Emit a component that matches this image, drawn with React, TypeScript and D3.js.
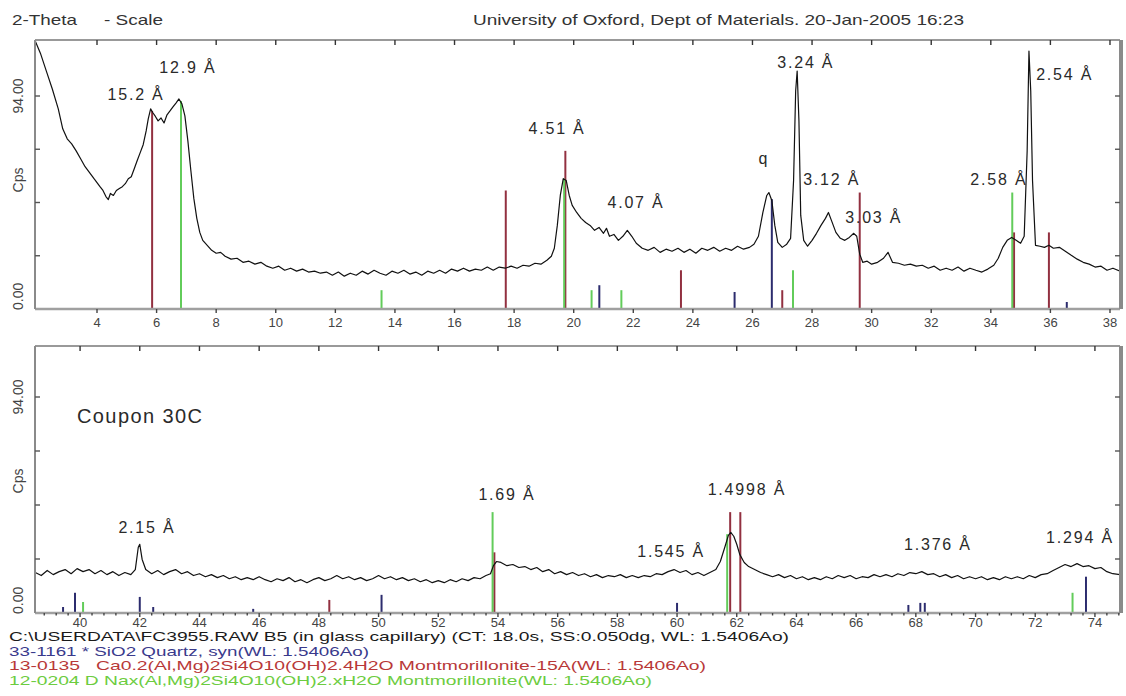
import React from 'react';
import * as d3 from 'd3';

// scan 1: 2-theta vs Cps (upper panel)
const topScan: [number, number][] = [
  [1.93, 118.2], [2.1, 112.9], [2.3, 105.0], [2.5, 97.1], [2.7, 88.3], [2.85, 79.5], [3.0, 75.1],
  [3.15, 72.9], [3.3, 69.8], [3.45, 66.3], [3.6, 62.8], [3.75, 60.2], [3.9, 57.5], [4.0, 55.8],
  [4.1, 54.0], [4.2, 52.3], [4.3, 49.6], [4.38, 48.3], [4.45, 51.0], [4.55, 50.1], [4.65, 52.3],
  [4.75, 53.2], [4.85, 54.0], [4.95, 55.3], [5.05, 57.5], [5.15, 58.4], [5.25, 61.9], [5.35, 65.5],
  [5.45, 69.0], [5.55, 72.5], [5.65, 78.6], [5.72, 83.9], [5.8, 88.3], [5.88, 86.5], [5.95, 85.2],
  [6.05, 83.0], [6.15, 84.3], [6.25, 82.1], [6.35, 85.7], [6.45, 87.4], [6.55, 89.2], [6.65, 90.9],
  [6.75, 92.7], [6.85, 90.5], [6.95, 85.2], [7.05, 74.2], [7.15, 61.1], [7.25, 48.8], [7.35, 40.0],
  [7.45, 33.8], [7.55, 30.3], [7.7, 28.1], [7.85, 25.9], [8.0, 24.6], [8.15, 25.0], [8.3, 23.3],
  [8.5, 22.0], [8.7, 22.4], [8.9, 20.6], [9.1, 21.1], [9.3, 19.8], [9.5, 20.6], [9.7, 18.9],
  [9.9, 18.0], [10.1, 18.9], [10.3, 17.1], [10.5, 18.0], [10.7, 16.7], [10.9, 17.6], [11.1, 16.3],
  [11.3, 16.7], [11.5, 15.8], [11.7, 16.3], [11.9, 14.9], [12.1, 16.3], [12.3, 14.5], [12.5, 15.8],
  [12.7, 14.9], [12.9, 16.7], [13.1, 15.4], [13.3, 17.1], [13.5, 15.8], [13.7, 14.9], [13.9, 16.7],
  [14.1, 15.8], [14.3, 17.1], [14.5, 15.4], [14.7, 16.3], [14.9, 14.9], [15.1, 16.7], [15.3, 15.8],
  [15.5, 17.1], [15.7, 15.8], [15.9, 17.6], [16.1, 16.7], [16.3, 18.0], [16.5, 16.7], [16.7, 17.6],
  [16.9, 17.1], [17.1, 18.5], [17.3, 17.1], [17.5, 18.5], [17.7, 18.0], [17.9, 18.9], [18.1, 18.0],
  [18.3, 19.3], [18.5, 18.9], [18.7, 20.2], [18.9, 19.8], [19.1, 21.5], [19.25, 23.3], [19.35, 26.8],
  [19.45, 36.9], [19.55, 50.1], [19.65, 57.5], [19.75, 56.7], [19.85, 50.1], [19.95, 45.7],
  [20.1, 42.6], [20.25, 40.0], [20.4, 38.2], [20.55, 36.9], [20.7, 34.7], [20.85, 36.0], [21.0, 33.4],
  [21.1, 35.6], [21.2, 32.1], [21.35, 32.9], [21.5, 30.3], [21.65, 32.1], [21.8, 34.7], [21.95, 32.1],
  [22.1, 29.0], [22.3, 26.8], [22.5, 25.9], [22.7, 27.2], [22.9, 25.0], [23.1, 26.4], [23.3, 25.5],
  [23.5, 26.8], [23.7, 25.0], [23.9, 26.4], [24.1, 24.6], [24.3, 26.8], [24.5, 25.9], [24.7, 27.2],
  [24.9, 25.5], [25.1, 26.8], [25.3, 25.9], [25.5, 27.7], [25.7, 26.4], [25.9, 27.2], [26.05, 28.6],
  [26.2, 32.1], [26.35, 42.6], [26.48, 50.1], [26.55, 51.4], [26.65, 47.9], [26.75, 36.9],
  [26.85, 29.4], [27.0, 27.2], [27.15, 28.6], [27.28, 31.2], [27.38, 56.7], [27.45, 96.2],
  [27.5, 105.0], [27.56, 83.0], [27.62, 41.3], [27.72, 30.3], [27.85, 27.7], [28.0, 30.3],
  [28.15, 33.4], [28.3, 36.9], [28.45, 40.0], [28.55, 42.6], [28.65, 39.1], [28.8, 33.8],
  [28.95, 31.2], [29.1, 30.3], [29.25, 31.6], [29.4, 33.4], [29.5, 32.1], [29.6, 24.2], [29.7, 20.6],
  [29.85, 21.1], [30.0, 19.8], [30.2, 20.6], [30.4, 22.4], [30.55, 25.0], [30.7, 20.6], [30.9, 20.2],
  [31.1, 19.3], [31.3, 19.8], [31.5, 18.9], [31.7, 19.3], [31.9, 18.0], [32.1, 18.9], [32.3, 17.1],
  [32.5, 18.0], [32.7, 17.1], [32.9, 18.5], [33.1, 16.7], [33.3, 18.0], [33.5, 17.1], [33.7, 16.3],
  [33.9, 17.6], [34.1, 19.3], [34.25, 22.4], [34.4, 27.2], [34.55, 30.3], [34.7, 31.6], [34.85, 30.3],
  [35.0, 29.0], [35.12, 32.1], [35.22, 69.8], [35.28, 113.8], [35.34, 96.2], [35.4, 56.7],
  [35.5, 28.1], [35.65, 27.7], [35.8, 27.2], [35.95, 28.1], [36.1, 26.8], [36.3, 27.2], [36.5, 25.5],
  [36.7, 23.7], [36.9, 22.0], [37.1, 20.6], [37.3, 19.8], [37.5, 18.5], [37.7, 18.9], [37.9, 17.1],
  [38.1, 18.0], [38.34, 16.7],
];

// scan 2: 2-theta vs Cps (lower panel)
const bottomScan: [number, number][] = [
  [38.5, 17.6], [38.7, 16.3], [38.9, 18.5], [39.1, 16.7], [39.3, 18.0], [39.5, 18.9], [39.7, 17.1],
  [39.9, 19.3], [40.1, 18.0], [40.3, 18.9], [40.5, 17.1], [40.7, 18.5], [40.9, 16.7], [41.1, 18.0],
  [41.3, 16.3], [41.5, 17.6], [41.7, 16.7], [41.85, 18.9], [41.95, 28.6], [42.0, 29.9], [42.08, 23.3],
  [42.2, 18.9], [42.4, 17.1], [42.6, 18.5], [42.8, 16.7], [43.0, 18.0], [43.2, 18.9], [43.4, 17.1],
  [43.6, 18.0], [43.8, 16.3], [44.0, 17.1], [44.2, 15.8], [44.4, 16.7], [44.6, 15.4], [44.8, 16.3],
  [45.0, 14.9], [45.2, 15.8], [45.4, 14.5], [45.6, 15.4], [45.8, 14.5], [46.0, 15.8], [46.2, 14.5],
  [46.4, 13.6], [46.6, 14.9], [46.8, 14.1], [47.0, 15.4], [47.2, 13.6], [47.4, 14.5], [47.6, 13.2],
  [47.8, 14.5], [48.0, 15.4], [48.2, 14.1], [48.4, 14.9], [48.6, 16.3], [48.8, 14.9], [49.0, 15.8],
  [49.2, 14.5], [49.4, 15.4], [49.6, 14.1], [49.8, 14.9], [50.0, 16.3], [50.2, 14.9], [50.4, 15.8],
  [50.6, 14.5], [50.8, 15.4], [51.0, 14.1], [51.2, 14.9], [51.4, 13.6], [51.6, 14.5], [51.8, 13.2],
  [52.0, 14.1], [52.2, 13.2], [52.4, 14.5], [52.6, 13.6], [52.8, 14.9], [53.0, 14.1], [53.2, 15.4],
  [53.4, 14.9], [53.6, 16.3], [53.75, 17.1], [53.85, 20.6], [53.95, 22.4], [54.1, 22.0], [54.3, 20.6],
  [54.5, 21.1], [54.7, 19.8], [54.9, 20.2], [55.1, 18.9], [55.3, 19.8], [55.5, 18.0], [55.7, 18.9],
  [55.9, 17.1], [56.1, 18.0], [56.3, 16.7], [56.5, 17.6], [56.7, 16.3], [56.9, 17.1], [57.1, 15.8],
  [57.3, 16.7], [57.5, 15.4], [57.7, 16.3], [57.9, 15.8], [58.1, 16.7], [58.3, 15.4], [58.5, 16.3],
  [58.7, 15.4], [58.9, 16.3], [59.1, 15.8], [59.3, 17.1], [59.5, 16.7], [59.7, 18.0], [59.9, 18.9],
  [60.1, 17.6], [60.3, 18.5], [60.5, 16.7], [60.7, 17.6], [60.9, 16.3], [61.1, 17.6], [61.3, 18.9],
  [61.45, 22.4], [61.6, 28.6], [61.72, 33.8], [61.8, 35.1], [61.9, 33.4], [62.0, 29.9], [62.1, 25.5],
  [62.25, 22.0], [62.4, 20.2], [62.6, 18.9], [62.8, 17.6], [63.0, 16.7], [63.2, 15.8], [63.4, 16.7],
  [63.6, 15.4], [63.8, 16.3], [64.0, 14.9], [64.2, 15.8], [64.4, 14.5], [64.6, 15.4], [64.8, 14.5],
  [65.0, 15.8], [65.2, 14.9], [65.4, 16.3], [65.6, 15.4], [65.8, 16.3], [66.0, 14.9], [66.2, 15.8],
  [66.4, 15.4], [66.6, 16.7], [66.8, 15.8], [67.0, 16.7], [67.2, 15.8], [67.4, 17.1], [67.6, 16.3],
  [67.8, 17.6], [68.0, 17.1], [68.2, 18.0], [68.4, 16.7], [68.6, 17.1], [68.8, 15.8], [69.0, 16.7],
  [69.2, 15.4], [69.4, 16.3], [69.6, 14.9], [69.8, 15.8], [70.0, 14.9], [70.2, 15.8], [70.4, 14.5],
  [70.6, 15.4], [70.8, 14.5], [71.0, 15.8], [71.2, 14.9], [71.4, 15.8], [71.6, 14.9], [71.8, 16.3],
  [72.0, 15.4], [72.2, 16.7], [72.4, 17.1], [72.6, 18.5], [72.8, 19.8], [73.0, 21.1], [73.2, 20.2],
  [73.4, 21.5], [73.6, 20.2], [73.8, 20.6], [74.0, 19.3], [74.2, 19.8], [74.4, 18.0], [74.6, 17.1],
  [74.84, 16.7],
];

// reference pattern sticks: [2-theta, Cps]
const quartzSticks: [number, number][] = [
  [20.86, 10.5], [25.4, 7.5], [26.65, 48.5], [36.55, 3.1],
  [39.43, 2.6], [39.83, 8.8], [42.0, 7.0], [42.45, 2.6], [45.8, 1.8], [50.1, 7.9], [60.0, 4.4],
  [67.75, 3.5], [68.15, 4.4], [68.3, 4.4], [73.7, 15.8],
];
const mont15Sticks: [number, number][] = [
  [5.85, 87.4], [17.72, 52.3], [19.72, 69.8], [23.6, 17.1], [27.0, 8.3], [29.6, 51.4],
  [34.78, 33.8], [35.95, 33.8],
  [48.35, 5.7], [53.88, 26.4], [61.78, 43.9], [62.12, 43.9],
];
const naMontSticks: [number, number][] = [
  [6.82, 91.8], [13.55, 8.3], [19.68, 57.5], [20.6, 8.3], [21.6, 8.3], [27.36, 17.1], [34.72, 51.4],
  [40.1, 4.8], [53.82, 43.9], [61.68, 34.3], [73.25, 8.8],
];

const topTicks = [4, 6, 8, 10, 12, 14, 16, 18, 20, 22, 24, 26, 28, 30, 32, 34, 36, 38];
const bottomTicks = [40, 42, 44, 46, 48, 50, 52, 54, 56, 58, 60, 62, 64, 66, 68, 70, 72, 74];
const cpsTicks = [23.5, 47, 70.5, 94];

// peak annotations, anchored at [2-theta, Cps]
const topLabels = [
  { text: '15.2 Å', theta: 5.31, cps: 92.2 },
  { text: '12.9 Å', theta: 7.05, cps: 104.2 },
  { text: '4.51 Å', theta: 19.44, cps: 77.2 },
  { text: '4.07 Å', theta: 22.09, cps: 44.6 },
  { text: 'q', theta: 26.38, cps: 64.0 },
  { text: '3.24 Å', theta: 27.79, cps: 106.4 },
  { text: '3.12 Å', theta: 28.66, cps: 54.7 },
  { text: '3.03 Å', theta: 30.07, cps: 38.0 },
  { text: '2.58 Å', theta: 34.27, cps: 54.7 },
  { text: '2.54 Å', theta: 36.48, cps: 101.1 },
];
const bottomLabels = [
  { text: '2.15 Å', theta: 42.24, cps: 34.8 },
  { text: '1.69 Å', theta: 54.3, cps: 49.2 },
  { text: '1.4998 Å', theta: 62.34, cps: 51.4 },
  { text: '1.545 Å', theta: 59.8, cps: 24.4 },
  { text: '1.376 Å', theta: 68.74, cps: 27.4 },
  { text: '1.294 Å', theta: 73.5, cps: 30.5 },
];

const legendLines = [
  'C:\\USERDATA\\FC3955.RAW B5 (in glass capillary) (CT: 18.0s, SS:0.050dg, WL: 1.5406Ao)',
  '33-1161 * SiO2 Quartz, syn(WL: 1.5406Ao)',
  '13-0135   Ca0.2(Al,Mg)2Si4O10(OH)2.4H2O Montmorillonite-15A(WL: 1.5406Ao)',
  '12-0204 D Nax(Al,Mg)2Si4O10(OH)2.xH2O Montmorillonite(WL: 1.5406Ao)',
];

const FONT = '"Liberation Sans", Arial, sans-serif';
const QUARTZ = '#2c2c6e';
const MONT15 = '#923040';
const NAMONT = '#62cc5a';
const legendColors = ['#1a1a1a', '#3a3a8c', '#b83838', '#6ccc40'];
const legendWidths = [780, 360, 697, 643];

const LEFT = 35;
const RIGHT = 1120;

type PanelProps = {
  id: string;
  scan: [number, number][];
  domain: [number, number];
  top: number;
  bottom: number;
  cps94: number;
  ticks: number[];
  minor: boolean;
  labelGap: number;
  labels: { text: string; theta: number; cps: number }[];
};

function Panel({ id, scan, domain, top, bottom, cps94, ticks, minor, labelGap, labels }: PanelProps) {
  const x = d3.scaleLinear().domain(domain).range([LEFT, RIGHT]);
  const y = d3.scaleLinear().domain([0, 94]).range([bottom, cps94]);
  const line = d3.line<[number, number]>().x(d => x(d[0])).y(d => y(d[1]));
  const inside = (s: [number, number]) => s[0] >= domain[0] && s[0] <= domain[1];
  const minorTicks = minor
    ? d3.range(Math.ceil(domain[0] / 0.4) * 0.4, domain[1], 0.4).filter(t => Math.abs(t / 2 - Math.round(t / 2)) > 0.05)
    : [];

  const sticks = (list: [number, number][], color: string) =>
    list.filter(inside).map((s, i) => (
      <line key={i} x1={x(s[0])} x2={x(s[0])} y1={y(0)} y2={y(s[1])} stroke={color} strokeWidth={2} />
    ));

  return (
    <g>
      <defs>
        <clipPath id={id}>
          <rect x={LEFT} y={top} width={RIGHT - LEFT} height={bottom - top} />
        </clipPath>
      </defs>
      <g clipPath={`url(#${id})`}>
        {sticks(mont15Sticks, MONT15)}
        {sticks(naMontSticks, NAMONT)}
        {sticks(quartzSticks, QUARTZ)}
        <path d={line(scan) ?? ''} fill="none" stroke="#111" strokeWidth={1.2} strokeLinejoin="round" />
      </g>
      {/* frame */}
      <line x1={LEFT} x2={RIGHT} y1={top} y2={top} stroke="#999" strokeWidth={2} />
      <line x1={LEFT} x2={RIGHT} y1={bottom} y2={bottom} stroke="#a0a0a0" strokeWidth={2.5} />
      <line x1={LEFT} x2={LEFT} y1={top} y2={bottom} stroke="#8a8a8a" strokeWidth={2} />
      <rect x={RIGHT - 1} y={top} width={4} height={bottom - top} fill="#8a8a8a" />
      {ticks.map(t => (
        <g key={t}>
          <line x1={x(t)} x2={x(t)} y1={top} y2={top + 5} stroke="#333" strokeWidth={1.4} />
          <line x1={x(t)} x2={x(t)} y1={bottom} y2={bottom + 4} stroke="#444" strokeWidth={1.4} />
          <text x={x(t)} y={bottom + labelGap} textAnchor="middle" fontSize={13} fill="#444" fontFamily={FONT}>
            {t}
          </text>
        </g>
      ))}
      {minorTicks.map(t => (
        <line key={t} x1={x(t)} x2={x(t)} y1={bottom} y2={bottom + 2.5} stroke="#444" strokeWidth={1.4} />
      ))}
      {cpsTicks.map(c => (
        <g key={c}>
          <line x1={LEFT} x2={LEFT + 5} y1={y(c)} y2={y(c)} stroke="#555" strokeWidth={1.4} />
          <line x1={RIGHT - 5} x2={RIGHT} y1={y(c)} y2={y(c)} stroke="#555" strokeWidth={1.4} />
        </g>
      ))}
      <text transform={`translate(23,${y(94)}) rotate(-90)`} textAnchor="middle" fontSize={14} fill="#444" fontFamily={FONT}>
        94.00
      </text>
      <text transform={`translate(23,${y(94) + 84}) rotate(-90)`} textAnchor="middle" fontSize={14} fill="#444" fontFamily={FONT}>
        Cps
      </text>
      <text transform={`translate(23,${bottom + 1}) rotate(-90)`} textAnchor="start" fontSize={14} fill="#444" fontFamily={FONT}>
        0.00
      </text>
      {labels.map(l => (
        <text key={l.text} x={x(l.theta)} y={y(l.cps)} textAnchor="middle" fontSize={16} letterSpacing={1.8} fill="#2a2a2a" fontFamily={FONT}>
          {l.text}
        </text>
      ))}
    </g>
  );
}

export default function App() {
  return (
    <svg width={1126} height={696} style={{ position: 'absolute', left: 0, top: 0, background: '#fff' }}>
      <rect width={1126} height={696} fill="#fff" />
      <text x={12} y={25} fontSize={15} fill="#333" fontFamily={FONT} textLength={65} lengthAdjust="spacingAndGlyphs">2-Theta</text>
      <text x={104} y={25} fontSize={15} fill="#333" fontFamily={FONT} textLength={59} lengthAdjust="spacingAndGlyphs">- Scale</text>
      <text x={473} y={25} fontSize={15} fill="#333" fontFamily={FONT} textLength={491} lengthAdjust="spacingAndGlyphs">
        University of Oxford, Dept of Materials. 20-Jan-2005 16:23
      </text>

      <Panel id="clipTop" scan={topScan} domain={[1.919, 38.336]} top={40} bottom={309} cps94={96}
        ticks={topTicks} minor={false} labelGap={18} labels={topLabels} />
      <Panel id="clipBottom" scan={bottomScan} domain={[38.49, 74.84]} top={346} bottom={613} cps94={397}
        ticks={bottomTicks} minor={true} labelGap={14} labels={bottomLabels} />

      <text x={77} y={423} fontSize={20} letterSpacing={1.4} fill="#2a2a2a" fontFamily={FONT}>Coupon 30C</text>

      {legendLines.map((t, i) => (
        <text key={i} x={9} y={641 + i * 14.6} fontSize={13.5} fill={legendColors[i]} fontFamily={FONT}
          textLength={legendWidths[i]} lengthAdjust="spacingAndGlyphs" style={{ whiteSpace: 'pre' }}>
          {t}
        </text>
      ))}
    </svg>
  );
}
